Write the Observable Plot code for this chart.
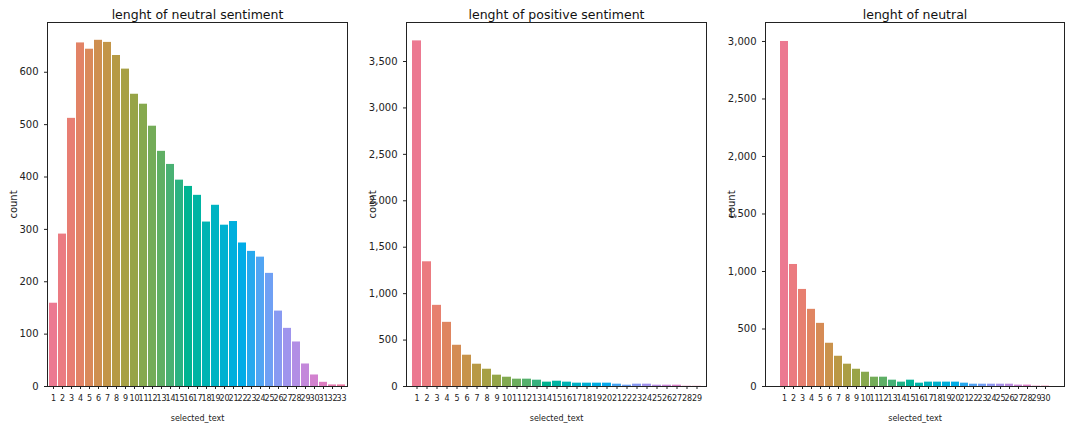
<!DOCTYPE html>
<html>
<head>
<meta charset="utf-8">
<script src="https://cdn.jsdelivr.net/npm/d3@7"></script>
<script src="https://cdn.jsdelivr.net/npm/@observablehq/plot@0.6"></script>
<style>
  body { margin: 0; background: #fff; }
  #charts { display: flex; }
</style>
</head>
<body>
<div id="charts"></div>
<script>
// counts per selected_text length
const neutralSentiment = [159, 291, 512, 656, 644, 661, 657, 632, 606, 558, 539, 497, 449, 424, 394, 382, 365, 314, 346, 308, 315, 274, 258, 247, 216, 144, 111, 85, 43, 22, 8, 3, 3]
const positiveSentiment = [3722, 1343, 874, 691, 444, 337, 240, 186, 122, 100, 79, 79, 68, 47, 57, 47, 36, 36, 36, 36, 25, 14, 25, 25, 14, 14, 14, 3, 2]
const neutralLen = [3000, 1061, 844, 671, 549, 376, 263, 194, 150, 124, 81, 81, 55, 38, 55, 29, 38, 38, 38, 38, 29, 20, 20, 20, 20, 20, 12, 12, 3, 3]

const panels = [
  { title: "lenght of neutral sentiment", values: neutralSentiment, top: 695, ticks: [0, 100, 200, 300, 400, 500, 600], ml: 47, mr: 10 },
  { title: "lenght of positive sentiment", values: positiveSentiment, top: 3920, ticks: [0, 500, 1000, 1500, 2000, 2500, 3000, 3500], ml: 49, mr: 8 },
  { title: "lenght of neutral", values: neutralLen, top: 3165, ticks: [0, 500, 1000, 1500, 2000, 2500, 3000], ml: 51, mr: 7 }
]

for (const p of panels) {
  const data = p.values.map((v, i) => ({ len: String(i + 1), count: v }))
  const n = data.length
  const colors = data.map((d, i) => d3.hcl(10 + 360 * i / n, 48, 65).formatHex())
  let chart = Plot.plot({
    width: 357,
    height: 424,
    marginLeft: p.ml,
    marginRight: p.mr,
    marginTop: 22,
    marginBottom: 38,
    style: { fontFamily: "DejaVu Sans", fontSize: 10, color: "#222" },
    x: { domain: data.map(d => d.len), padding: 0.15, label: "selected_text", labelAnchor: "center", labelOffset: 34, tickSize: 3, tickPadding: 2 },
    y: { domain: [0, p.top], ticks: p.ticks, label: "count", labelAnchor: "center", labelOffset: 38, tickSize: 3 },
    color: { type: "ordinal", domain: data.map(d => d.len), range: colors },
    marks: [
      Plot.barY(data, { x: "len", y: "count", fill: "len" }),
      Plot.axisX({ fontSize: 8, tickSize: 3, label: "selected_text", labelAnchor: "center", labelOffset: 34, labelArrow: "none" }),
      Plot.axisY({ ticks: p.ticks, tickSize: 3, label: "count", labelAnchor: "center", labelOffset: 38, labelArrow: "none" }),
      Plot.frame({ stroke: "#222" }),
      Plot.text([p.title], { frameAnchor: "top", dy: -12, fontSize: 12.5, fill: "#111" })
    ]
  })
  d3.select('#charts').append(() => chart)
}
</script>
</body>
</html>
